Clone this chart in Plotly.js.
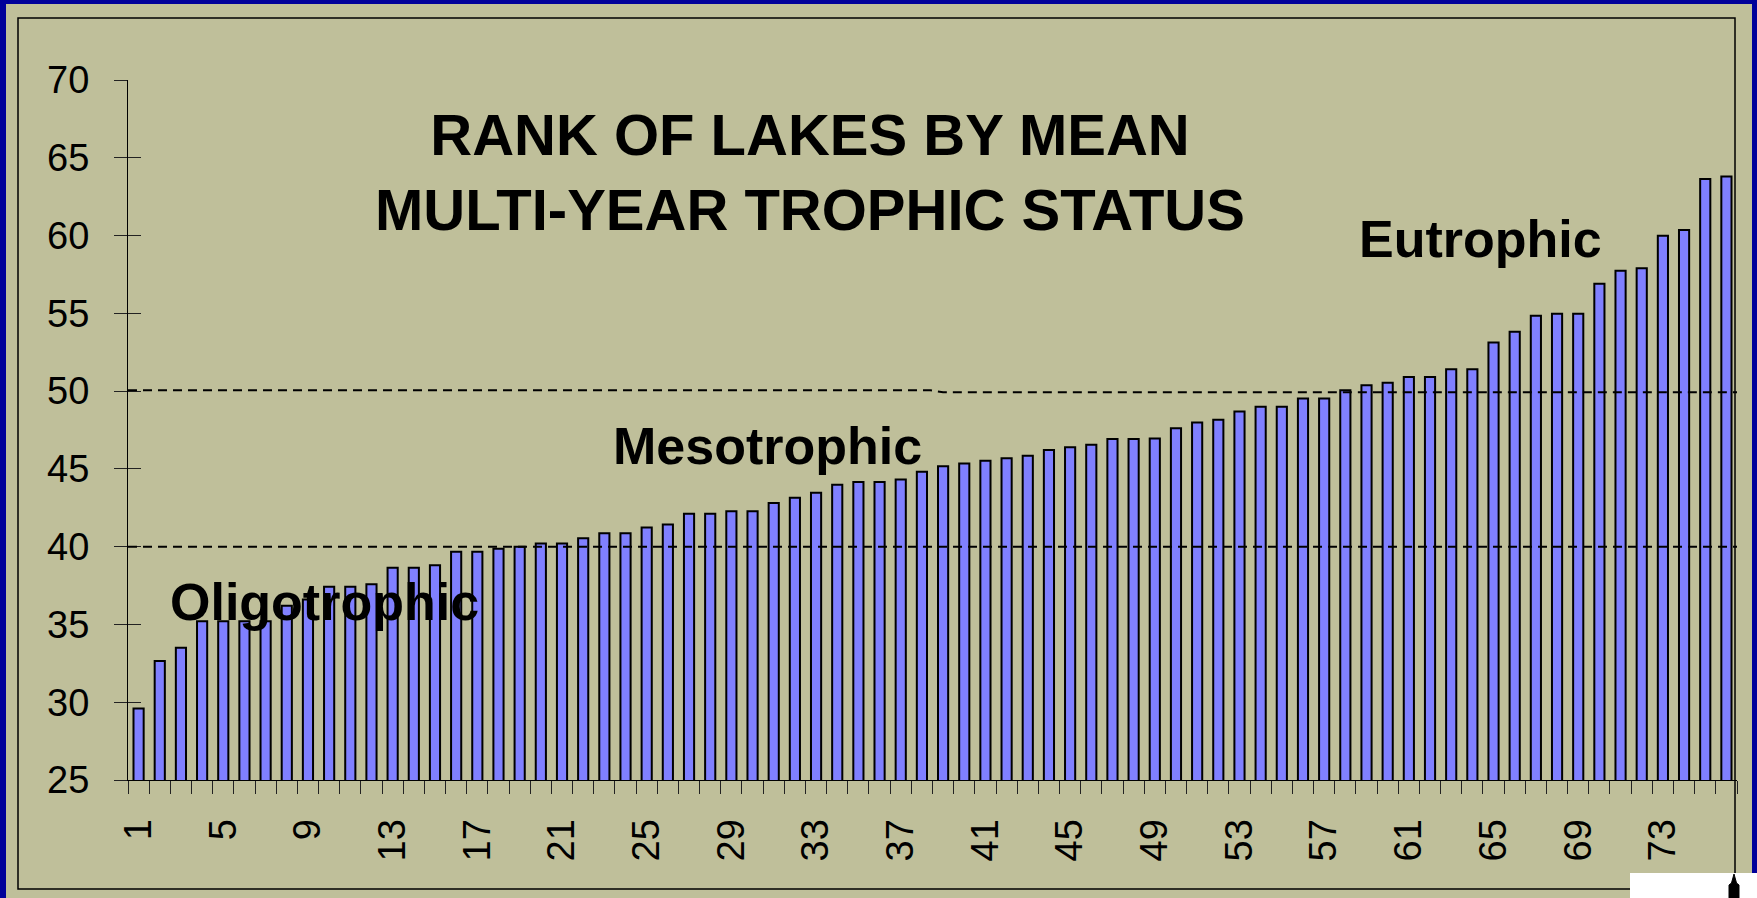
<!DOCTYPE html>
<html>
<head>
<meta charset="utf-8">
<script src="https://cdn.plot.ly/plotly-3.0.1.min.js"></script>
<style>
  html, body { margin: 0; padding: 0; overflow: hidden; background: #BFBF9A; }
  #chart { width: 1757px; height: 898px; }
</style>
</head>
<body>
<div id="chart"></div>
<script>
// ---- data ----
const lakeRanks = [1,2,3,4,5,6,7,8,9,10,11,12,13,14,15,16,17,18,19,20,
  21,22,23,24,25,26,27,28,29,30,31,32,33,34,35,36,37,38,39,40,
  41,42,43,44,45,46,47,48,49,50,51,52,53,54,55,56,57,58,59,60,
  61,62,63,64,65,66,67,68,69,70,71,72,73,74,75,76];
const trophicIndex = [29.6,32.65,33.5,35.2,35.2,35.2,35.2,36.2,36.6,37.43,
  37.43,37.58,38.65,38.65,38.8,39.68,39.68,39.86,40.0,40.2,
  40.2,40.54,40.86,40.86,41.23,41.43,42.12,42.12,42.27,42.27,
  42.8,43.15,43.47,43.98,44.15,44.15,44.32,44.82,45.17,45.35,
  45.53,45.68,45.85,46.22,46.39,46.55,46.92,46.92,46.95,47.62,
  47.99,48.16,48.69,49.0,49.0,49.52,49.52,50.05,50.38,50.54,
  50.91,50.91,51.4,51.4,53.13,53.82,54.84,54.98,54.98,56.9,
  57.74,57.9,59.98,60.36,63.63,63.79];
const xTickVals = [1,5,9,13,17,21,25,29,33,37,41,45,49,53,57,61,65,69,73];
const xTickText = ['1','5','9','13','17','21','25','29','33','37','41','45','49','53','57','61','65','69','73'];
const yTickVals = [25,30,35,40,45,50,55,60,65,70];
const mesoBound = 40;
const eutroBoundLeft = 50.05;
const eutroBoundRight = 49.92;
const eutroKink = [38.4, 39.0];
const titleText = 'RANK OF LAKES BY MEAN<br>MULTI-YEAR TROPHIC STATUS';
const zoneNames = ['Oligotrophic', 'Mesotrophic', 'Eutrophic'];

// ---- layout helpers (pixel -> paper) ----
const W = 1757, H = 898, PL = 128, PR = 1737, PT = 80, PB = 780;
const px = X => (X - PL) / (PR - PL);
const py = Y => (PB - Y) / (PB - PT);

const FONT = '"Liberation Sans", Arial, Helvetica, sans-serif';
const TAN = '#BFBF9A';
const BLUE = '#00009A';

const barTrace = {
  type: 'bar',
  x: lakeRanks,
  y: trophicIndex,
  width: 0.48,
  marker: { color: '#8080FF', line: { color: '#000000', width: 2 } },
  hoverinfo: 'skip',
  showlegend: false
};
// invisible companion trace so the overlaid y-axis (inner tick halves) is drawn
const tickHelper = {
  type: 'scatter', mode: 'markers',
  x: lakeRanks, y: trophicIndex, yaxis: 'y2',
  marker: { opacity: 0, size: 1 },
  hoverinfo: 'skip', showlegend: false
};

const towerPath = (() => {
  const pts = [[1734,874],[1736.5,883],[1739,885],[1739,898],[1729,898],[1729,885],[1731.5,883]];
  return 'M' + pts.map(p => px(p[0]).toFixed(5) + ',' + py(p[1]).toFixed(5)).join(' L') + ' Z';
})();

const layout = {
  width: W, height: H,
  margin: { l: PL, r: W - PR, t: PT, b: H - PB, pad: 0 },
  paper_bgcolor: TAN,
  plot_bgcolor: TAN,
  showlegend: false,
  font: { family: FONT, color: '#000000' },
  xaxis: {
    range: [0.5, 76.5],
    tickmode: 'array', tickvals: xTickVals, ticktext: xTickText,
    tickangle: -90,
    ticks: 'outside', ticklen: 13, tickcolor: 'rgba(0,0,0,0)',
    ticklabelstandoff: 10,
    tickfont: { family: FONT, size: 38, color: '#000000' },
    minor: { ticks: 'outside', ticklen: 13, tickwidth: 1, tickcolor: '#222222',
             tickmode: 'linear', tick0: 0.5, dtick: 1, showgrid: false },
    showline: true, linecolor: '#000000', linewidth: 1,
    showgrid: false, zeroline: false, fixedrange: true
  },
  yaxis: {
    range: [25, 70],
    tickmode: 'array', tickvals: yTickVals,
    ticks: 'outside', ticklen: 13, tickwidth: 1, tickcolor: '#222222',
    ticklabelstandoff: 17,
    tickfont: { family: FONT, size: 38, color: '#000000' },
    showline: true, linecolor: '#000000', linewidth: 1,
    showgrid: false, zeroline: false, fixedrange: true
  },
  yaxis2: {
    overlaying: 'y', anchor: 'x', side: 'left',
    range: [25, 70],
    tickmode: 'array', tickvals: yTickVals,
    ticks: 'inside', ticklen: 13, tickwidth: 1, tickcolor: '#222222',
    showticklabels: false, showline: false, showgrid: false, zeroline: false, fixedrange: true
  },
  shapes: [
    // inner frame
    { type: 'rect', xref: 'paper', yref: 'paper', x0: px(18), x1: px(1735), y0: py(889), y1: py(18),
      line: { color: '#000000', width: 1.5 }, fillcolor: 'rgba(0,0,0,0)' },
    // trophic boundaries
    { type: 'line', xref: 'x', yref: 'y', x0: 0.5, x1: 76.5, y0: mesoBound, y1: mesoBound,
      line: { color: '#000000', width: 2, dash: '9px,6px' } },
    { type: 'path', xref: 'x', yref: 'y',
      path: 'M0.5,' + eutroBoundLeft + ' L' + eutroKink[0] + ',' + eutroBoundLeft +
            ' L' + eutroKink[1] + ',' + eutroBoundRight + ' L76.5,' + eutroBoundRight,
      line: { color: '#000000', width: 2, dash: '9px,6px' } },
    // slide border strips
    { type: 'rect', xref: 'paper', yref: 'paper', x0: px(0), x1: px(6), y0: py(H), y1: py(0),
      line: { width: 0 }, fillcolor: BLUE },
    { type: 'rect', xref: 'paper', yref: 'paper', x0: px(0), x1: px(W), y0: py(4), y1: py(0),
      line: { width: 0 }, fillcolor: BLUE },
    { type: 'rect', xref: 'paper', yref: 'paper', x0: px(1752), x1: px(W), y0: py(H), y1: py(0),
      line: { width: 0 }, fillcolor: BLUE },
    // white corner box with small icon
    { type: 'rect', xref: 'paper', yref: 'paper', x0: px(1630), x1: px(W), y0: py(H), y1: py(873),
      line: { width: 0 }, fillcolor: '#FFFFFF' },
    { type: 'path', xref: 'paper', yref: 'paper', path: towerPath,
      line: { color: '#000000', width: 1 }, fillcolor: '#000000' }
  ],
  annotations: [
    { xref: 'paper', yref: 'paper', x: px(810), y: py(172), xanchor: 'center', yanchor: 'middle',
      text: '<b>' + titleText.replace('<br>', '</b><br><b>') + '</b>', showarrow: false, align: 'center',
      font: { family: FONT, size: 58, color: '#000000' } },
    { xref: 'paper', yref: 'paper', x: px(324), y: py(602), xanchor: 'center', yanchor: 'middle',
      text: '<b>' + zoneNames[0] + '</b>', showarrow: false,
      font: { family: FONT, size: 52, color: '#000000' } },
    { xref: 'paper', yref: 'paper', x: px(767), y: py(446), xanchor: 'center', yanchor: 'middle',
      text: '<b>' + zoneNames[1] + '</b>', showarrow: false,
      font: { family: FONT, size: 52, color: '#000000' } },
    { xref: 'paper', yref: 'paper', x: px(1480), y: py(239), xanchor: 'center', yanchor: 'middle',
      text: '<b>' + zoneNames[2] + '</b>', showarrow: false,
      font: { family: FONT, size: 52, color: '#000000' } }
  ]
};

Plotly.newPlot('chart', [barTrace, tickHelper], layout, { displayModeBar: false, staticPlot: true });
</script>
</body>
</html>
